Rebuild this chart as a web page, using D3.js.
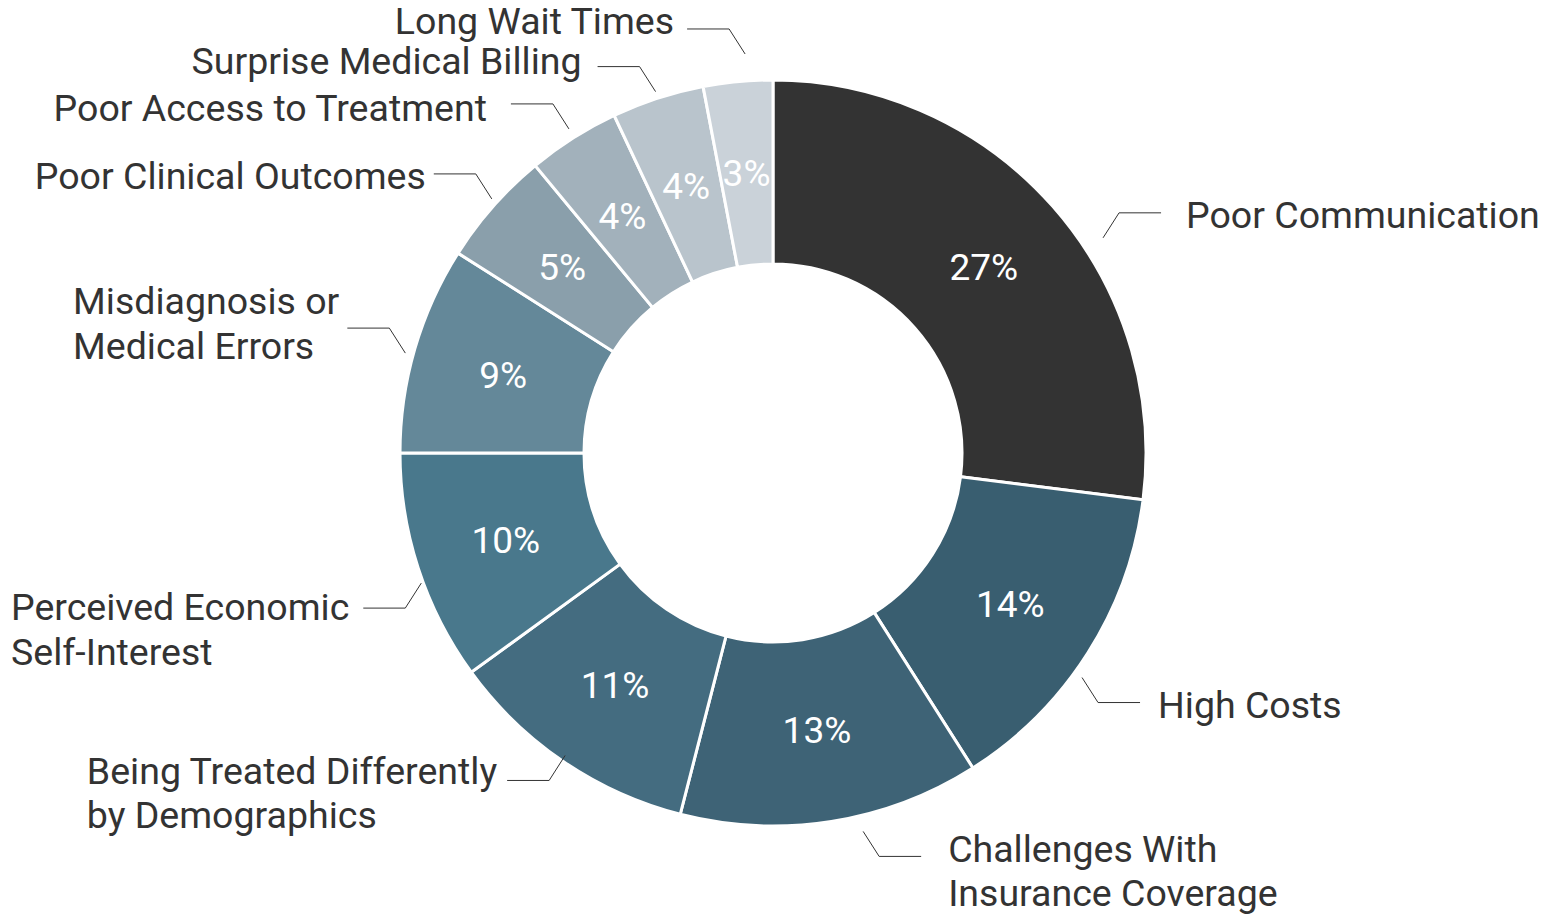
<!DOCTYPE html>
<html>
<head>
<meta charset="utf-8">
<script src="https://cdn.jsdelivr.net/npm/d3@7"></script>
<style>
  html, body { margin: 0; padding: 0; background: #fff; }
  svg { display: block; font-family: Roboto, "Open Sans", sans-serif; }
</style>
</head>
<body>
<svg width="1547" height="915"></svg>
<script>
// data
const categories = [
  ["Poor Communication"],
  ["High Costs"],
  ["Challenges With", "Insurance Coverage"],
  ["Being Treated Differently", "by Demographics"],
  ["Perceived Economic", "Self-Interest"],
  ["Misdiagnosis or", "Medical Errors"],
  ["Poor Clinical Outcomes"],
  ["Poor Access to Treatment"],
  ["Surprise Medical Billing"],
  ["Long Wait Times"]
];
const values = [27, 14, 13, 11, 10, 9, 5, 4, 4, 3];
const colors = ["#333333", "#395e70", "#3e6376", "#446c80", "#49788c",
  "#648899", "#8a9fab", "#a2b1bb", "#b9c4cc", "#cad2d9"];

// leader layout tweaks (degrees, radius, first line offset, text gap)
const angleNudge = [8.3, 3.6, -4.4, 0.3, -2.3, -1, 0.7, 0.2, 0, 1.4];
const leaderR = [394, 382, 389, 367, 375, 381, 379, 383, 380, 400];
const textDy = [2, 2, -8, -10, -1, -27, 2, 4, -6, -8];
const textGap = [25, 18, 27, 10, 14, 8, 8, 24, 16, 13];

const svg = d3.select("svg"),
  cx = 773, cy = 453,
  outerR = 373, innerR = 189;

const g = svg.append("g").attr("transform", `translate(${cx},${cy})`);

const pie = d3.pie().sort(null).value(d => d)(values);
const arc = d3.arc().innerRadius(innerR).outerRadius(outerR);

g.selectAll("path.slice")
  .data(pie)
  .enter()
  .append("path")
  .attr("class", "slice")
  .attr("d", arc)
  .attr("fill", (d, i) => colors[i])
  .attr("stroke", "#fff")
  .attr("stroke-width", 3);

// percent labels
g.selectAll("text.pct")
  .data(pie)
  .enter()
  .append("text")
  .attr("class", "pct")
  .attr("transform", d => `translate(${arc.centroid(d)})`)
  .attr("text-anchor", "middle")
  .attr("dy", "0.35em")
  .attr("fill", "#fff")
  .style("font-size", "37px")
  .text(d => d.value + "%");

// leaders + category labels
const lineH = 44.5;
pie.forEach((d, i) => {
  const a = (d.startAngle + d.endAngle) / 2 + angleNudge[i] * Math.PI / 180;
  const sx = Math.sin(a) * leaderR[i], sy = -Math.cos(a) * leaderR[i];
  const right = sx > 0;
  const up = sy < 0;
  const ex = sx + (right ? 16 : -16), ey = sy + (up ? -25 : 25);
  const hx = ex + (right ? 42 : -42);

  g.append("polyline")
    .attr("points", [[sx, sy], [ex, ey], [hx, ey]].map(p => p.join(",")).join(" "))
    .attr("fill", "none")
    .attr("stroke", "#333")
    .attr("stroke-width", 1);

  const t = g.append("text")
    .attr("fill", "#333")
    .style("font-size", "37.5px");
  categories[i].forEach((line, k) => {
    t.append("tspan")
      .attr("y", ey + textDy[i] + k * lineH)
      .attr("dy", "0.35em")
      .text(line);
  });
  let x0 = right ? hx + textGap[i] : hx - textGap[i];
  if (!right) {
    let w = 0;
    t.selectAll("tspan").each(function () { w = Math.max(w, this.getComputedTextLength()); });
    x0 -= w;
  }
  t.selectAll("tspan").attr("x", x0);
});
</script>
</body>
</html>
